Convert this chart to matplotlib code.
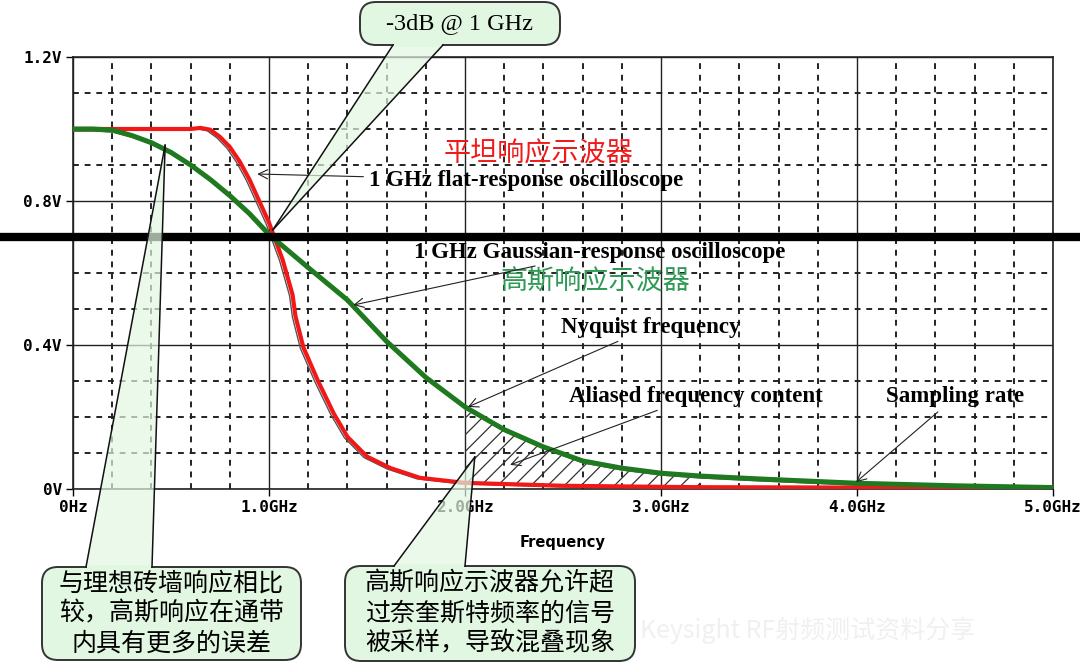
import matplotlib
matplotlib.use('Agg')
import matplotlib.pyplot as plt
import numpy as np
from matplotlib.patches import FancyBboxPatch, Polygon, Rectangle
from matplotlib.transforms import IdentityTransform, offset_copy
from matplotlib.ticker import MultipleLocator

plt.rcParams['font.family'] = ['DejaVu Sans', 'Noto Sans CJK SC']

# 数据 (GHz, V)
freq_flat = [0.0, 0.2, 0.4, 0.6, 0.65, 0.7, 0.75, 0.8, 0.85, 0.9, 0.95, 1.0, 1.07, 1.12,
             1.135, 1.175, 1.25, 1.33, 1.4, 1.5, 1.62, 1.77, 2.0, 2.5, 3.0, 3.2, 4.0, 5.0]
v_flat = [1.0, 1.0, 1.0, 1.0, 1.003, 0.998, 0.978, 0.95, 0.91, 0.86, 0.80, 0.74, 0.636, 0.54,
          0.48, 0.394, 0.30, 0.21, 0.145, 0.09, 0.058, 0.031, 0.017, 0.009, 0.006, 0.005, 0.004, 0.002]
freq_gauss = [0.0, 0.1, 0.2, 0.3, 0.4, 0.5, 0.6, 0.7, 0.8, 0.9, 1.0, 1.2, 1.4, 1.6, 1.8, 2.0,
              2.2, 2.4, 2.6, 2.8, 3.0, 3.2, 3.5, 4.0, 4.5, 5.0]
v_gauss = [1.0, 1.0, 0.997, 0.982, 0.962, 0.935, 0.90, 0.86, 0.815, 0.765, 0.707, 0.615, 0.525,
           0.41, 0.31, 0.228, 0.165, 0.117, 0.078, 0.058, 0.044, 0.036, 0.028, 0.016, 0.009, 0.004]
x_ticks = [0, 1, 2, 3, 4, 5]
x_labels = ['0Hz', '1.0GHz', '2.0GHz', '3.0GHz', '4.0GHz', '5.0GHz']
y_ticks = [0, 0.4, 0.8, 1.2]
y_labels = ['0V', '0.4V', '0.8V', '1.2V']
level_3db = 0.70
alias_lo, alias_hi = 2.0, 3.2

W, H = 1080, 672
fig = plt.figure(figsize=(W / 100, H / 100), dpi=100)
ax = fig.add_axes([73 / W, (H - 489) / H, 980 / W, 432 / H])
ax.set_xlim(0, 5)
ax.set_ylim(0, 1.2)

# 网格
ax.xaxis.set_major_locator(MultipleLocator(1))
ax.xaxis.set_minor_locator(MultipleLocator(0.2))
ax.yaxis.set_major_locator(MultipleLocator(0.4))
ax.yaxis.set_minor_locator(MultipleLocator(0.1))
ax.grid(which='major', color='#222222', lw=1.0, ls='-')
ax.grid(which='minor', color='#222222', lw=1.4, ls=(0, (3, 3)))
ax.set_axisbelow(True)
for s in ax.spines.values():
    s.set_color('#222222')
    s.set_linewidth(1.2)
ax.set_xticks(x_ticks)
ax.set_xticklabels(x_labels)
ax.set_yticks(y_ticks)
ax.set_yticklabels(y_labels)
ax.tick_params(which='minor', length=0)
ax.tick_params(which='major', length=5, width=1, direction='out', pad=3)
for lab in ax.get_xticklabels() + ax.get_yticklabels():
    lab.set_family('DejaVu Sans Mono')
    lab.set_fontweight('bold')
    lab.set_fontsize(11.5)
ax.set_xlabel('Frequency', fontsize=10.5, fontweight='bold', labelpad=14)

# 混叠区域
gx = [f for f in freq_gauss if alias_lo <= f <= alias_hi]
gy = [v for f, v in zip(freq_gauss, v_gauss) if alias_lo <= f <= alias_hi]
rx = [f for f in freq_flat if alias_lo <= f <= alias_hi]
ry = [v for f, v in zip(freq_flat, v_flat) if alias_lo <= f <= alias_hi]
plt.rcParams['hatch.linewidth'] = 0.9
ax.fill(gx + rx[::-1], gy + ry[::-1], facecolor='none', edgecolor='#333333',
        hatch='//', lw=0, zorder=2)

# 曲线 (细灰线 + 粗彩色线)
sh_r = offset_copy(ax.transData, fig=fig, x=-3, y=-1, units='dots')
sh_g = offset_copy(ax.transData, fig=fig, x=1, y=-2, units='dots')
ax.plot(freq_flat, v_flat, color='#555555', lw=1.0, transform=sh_r, zorder=3)
ax.plot(freq_gauss, v_gauss, color='#555555', lw=1.0, transform=sh_g, zorder=3)
ax.plot(freq_flat, v_flat, color='#f21818', lw=3.0, zorder=4, solid_capstyle='round')
ax.plot(freq_gauss, v_gauss, color='#1f7a1f', lw=3.6, zorder=5, solid_capstyle='round')

# -3dB 线
ax.axhline(level_3db, xmin=-73 / 980, xmax=1007 / 980, color='black', lw=6, clip_on=False, zorder=6)

# 文字标注
serif = 'Liberation Serif'
ax.text(1.89, 0.93, '平坦响应示波器', color='#f01a1a', fontsize=19.5,
        family='Noto Sans CJK SC', va='center', ha='left')
ax.text(2.18, 0.575, '高斯响应示波器', color='#2e9a55', fontsize=19.5,
        family='Noto Sans CJK SC', va='center', ha='left')
arrow = dict(arrowstyle='->', lw=0.8, color='#222222', shrinkA=2, shrinkB=0)
ax.annotate('1 GHz flat-response oscilloscope', xy=(0.94, 0.875), xytext=(1.51, 0.856),
            fontsize=16.5, family=serif, fontweight='bold', va='center', ha='left',
            arrowprops=arrow, zorder=7)
ax.annotate('1 GHz Gaussian-response oscilloscope', xy=(1.43, 0.511), xytext=(1.74, 0.658),
            fontsize=16.5, family=serif, fontweight='bold', va='center', ha='left',
            arrowprops=arrow, zorder=7)
ax.annotate('Nyquist frequency', xy=(2.015, 0.228), xytext=(2.49, 0.45),
            fontsize=16.5, family=serif, fontweight='bold', va='center', ha='left',
            arrowprops=arrow, zorder=7)
ax.annotate('Aliased frequency content', xy=(2.23, 0.067), xytext=(2.53, 0.258),
            fontsize=16.5, family=serif, fontweight='bold', va='center', ha='left',
            arrowprops=arrow, zorder=7)
ax.annotate('Sampling rate', xy=(3.995, 0.019), xytext=(4.15, 0.256),
            fontsize=16.5, family=serif, fontweight='bold', va='center', ha='left',
            arrowprops=arrow, zorder=7)


# 气泡框 (图像像素坐标, 原点左上)
def callout(x0, y0, x1, y1, bx0, bx1, tip, text, fs, fam, lsp=1.2):
    fc = '#e2f7e2'
    ec = '#333333'
    tx, ty = ax.transData.transform(tip)
    box = FancyBboxPatch((x0, H - y1), x1 - x0, y1 - y0,
                         boxstyle='round,pad=0,rounding_size=16',
                         transform=IdentityTransform(), fc=fc, ec=ec, lw=1.4, zorder=20)
    fig.add_artist(box)
    by = y0 if ty > H - y0 else y1
    wedge = Polygon([(bx0, H - by), (bx1, H - by), (tx, ty)], closed=True,
                    transform=IdentityTransform(), fc=fc, ec='none', alpha=0.7, zorder=21)
    fig.add_artist(wedge)
    cover = Rectangle((bx0 + 1, H - by - 2), bx1 - bx0 - 2, 4, transform=IdentityTransform(),
                      fc=fc, ec='none', zorder=22)
    fig.add_artist(cover)
    for bx in (bx0, bx1):
        fig.add_artist(plt.Line2D([bx, tx], [H - by, ty], transform=IdentityTransform(),
                                  color='#111111', lw=1.1, zorder=23))
    fig.text((x0 + x1) / 2, H - (y0 + y1) / 2, text, transform=IdentityTransform(),
             ha='center', va='center', fontsize=fs, family=fam, linespacing=lsp, zorder=24)


callout(360, 2, 560, 45, 393, 443, (1.02, 0.72), '-3dB @ 1 GHz', 17.5, serif)
callout(42, 567, 301, 660, 86, 152, (0.47, 0.955),
        '与理想砖墙响应相比\n较，高斯响应在通带\n内具有更多的误差', 18, 'Noto Sans CJK SC', 1.2)
callout(345, 566, 635, 661, 394, 465, (2.05, 0.089),
        '高斯响应示波器允许超\n过奈奎斯特频率的信号\n被采样，导致混叠现象', 18, 'Noto Sans CJK SC', 1.2)

# 水印
fig.text(640 / W, 1 - 630 / H, 'Keysight RF射频测试资料分享', color='#f0f0f0', fontsize=18,
         family='Noto Sans CJK SC', va='center', ha='left', zorder=0)

fig.savefig('out.png', dpi=100)
